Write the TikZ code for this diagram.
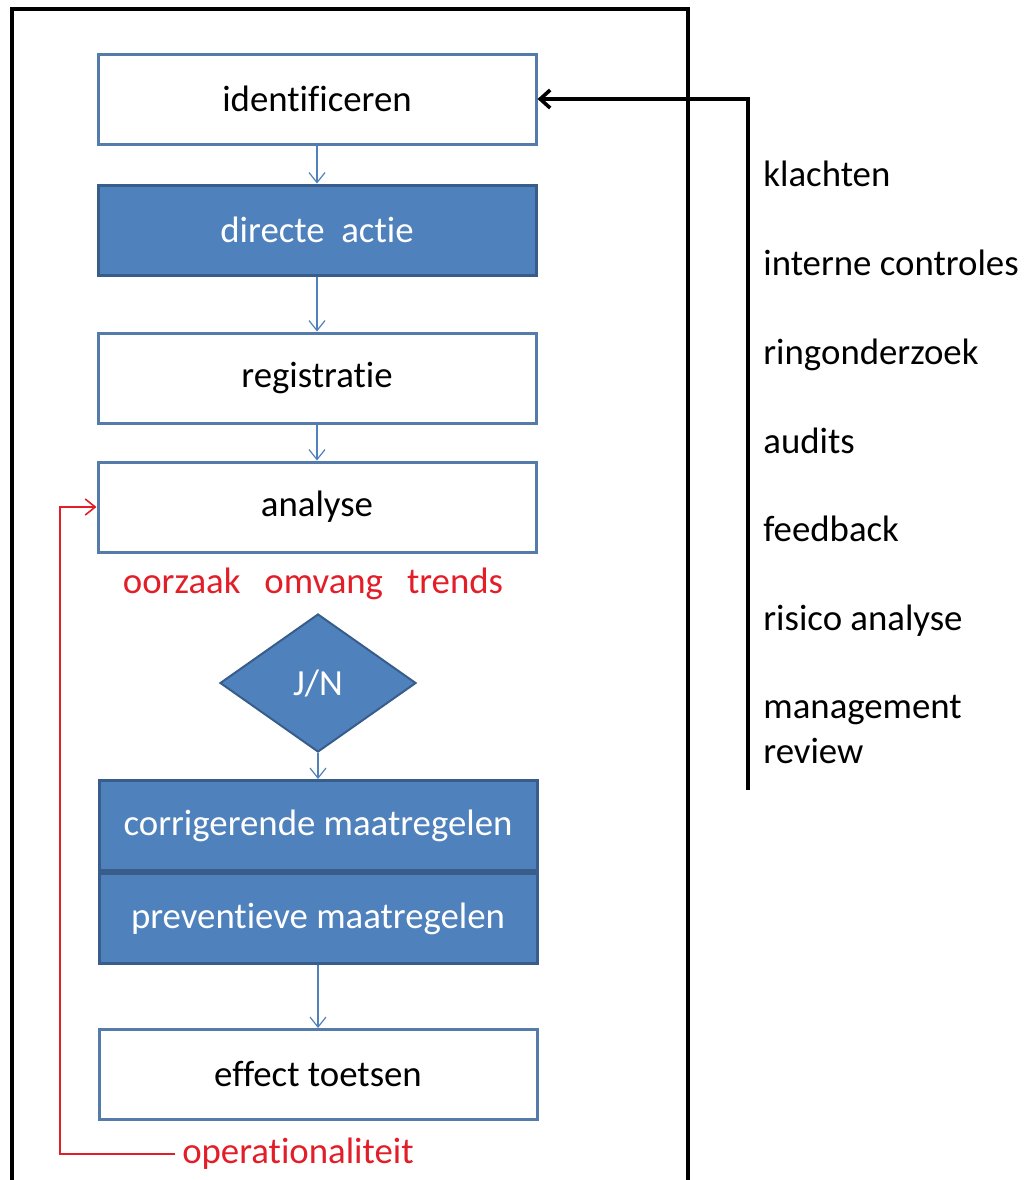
\documentclass[tikz,border=0pt]{standalone}
\usepackage{fontspec}
\setmainfont{Carlito}[RawFeature={-liga,-calt,-dlig,-clig}]
\usetikzlibrary{positioning,shapes.geometric,arrows.meta}
\definecolor{accent}{RGB}{79,129,189}
\definecolor{accentdark}{RGB}{56,93,138}
\definecolor{boxline}{RGB}{84,123,170}
\definecolor{loopred}{RGB}{226,30,40}

\begin{document}
\begin{tikzpicture}[x=0.5pt, y=-0.5pt,
    every node/.style = {font=\fontsize{18.4}{22.5}\selectfont},
    plain/.style = {draw=boxline, line width=1.5pt, fill=white, minimum width=219pt, minimum height=45pt},
    filled/.style = {plain, draw=accentdark, fill=accent, text=white},
    choice/.style = {diamond, draw=accentdark, line width=1pt, fill=accent, text=white, inner sep=0pt, minimum width=98pt, minimum height=69pt},
    flow/.style = {draw=accent, line width=0.6pt, -{Straight Barb[length=5pt, width=8pt]}},
    feed/.style = {draw=black, line width=1.8pt, -{Straight Barb[length=5pt, width=9pt]}},
    backline/.style = {draw=loopred, line width=0.8pt, -{Straight Barb[length=5pt, width=8pt]}},
    note/.style = {text=loopred},
    source/.style = {anchor=base west, inner sep=0pt, align=left}]
    \useasboundingbox (0,0) rectangle (1027,1180);

    % frame
    \draw[line width=2pt] (12,1185) -- (12,9) -- (688,9) -- (688,1185);

    % steps
    \node[plain] (ident) at (317,99) {identificeren};
    \node[filled] (directe) [below=19pt of ident] {directe\ \ actie};
    \node[plain] (registratie) [below=27.5pt of directe] {registratie};
    \node[plain] (analyse) [below=18pt of registratie] {analyse};
    \node[note] (oorzaak) at (313,584) {oorzaak\hspace{12pt}omvang\hspace{12pt}trends};
    \node[choice] (jn) at (318,683) {J/N};
    \node[filled] (corr) [below=13pt of jn] {corrigerende maatregelen};
    \node[filled] (prev) [below=0pt of corr] {preventieve maatregelen};
    \node[plain] (effect) [below=31.5pt of prev] {effect toetsen};
    \node[note] (oper) at (298,1154) {operationaliteit};

    \draw[flow] (ident) -- (directe);
    \draw[flow] (directe) -- (registratie);
    \draw[flow] (registratie) -- (analyse);
    \draw[flow] (jn) -- (corr);
    \draw[flow] (prev) -- (effect);

    % terugkoppeling
    \coordinate (loopc) at (60,1154);
    \draw[backline] (oper.west) -- (loopc) |- (analyse.west);

    % bronnen
    \node[source] (klachten) at (763,186) {klachten};
    \node[source] (interne) at (763,275) {interne controles};
    \node[source] (ring) at (763,364) {ringonderzoek};
    \node[source] (audits) at (763,453) {audits};
    \node[source] (feedback) at (763,541) {feedback};
    \node[source] (risico) at (763,630) {risico analyse};
    \node[source] (mgmt) at (763,763) {management\\review};
    \coordinate (feedend) at (748,790);
    \draw[feed] (feedend) |- (ident.east);
\end{tikzpicture}
\end{document}
